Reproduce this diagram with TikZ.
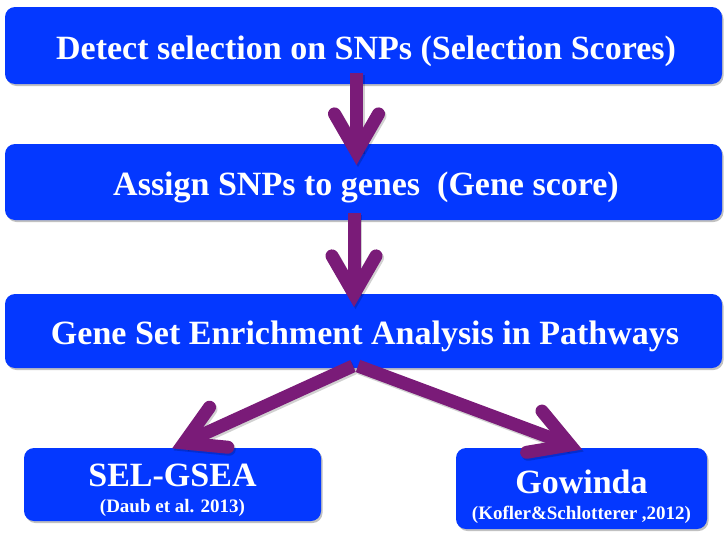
\documentclass[tikz,border=0pt]{standalone}
\usepackage{fontspec}
\setmainfont{Liberation Serif}
\usetikzlibrary{calc,shadows}
\definecolor{boxblue}{RGB}{4,56,255}
\definecolor{flowpurple}{RGB}{122,27,120}
\tikzset{
  stagebox/.style={fill=boxblue, draw=none, rounded corners=10pt, inner sep=0pt,
    drop shadow={shadow xshift=1.5pt, shadow yshift=-2pt, opacity=0.35, fill=black!70}},
  bigtext/.style={anchor=base, text=white, inner sep=0pt, font=\bfseries\fontsize{34}{37}\selectfont},
  reftext/.style={anchor=base, text=white, inner sep=0pt, font=\bfseries\fontsize{19}{21}\selectfont},
  shaftline/.style={draw=flowpurple, line width=13pt, line cap=butt},
  headline/.style={draw=flowpurple, line width=13pt, line cap=round, line join=miter, miter limit=10},
  shadowline/.style={draw=black, opacity=0.18, line width=13pt, line cap=round, line join=miter, miter limit=10},
}
\begin{document}
\begin{tikzpicture}[x=1pt,y=-1pt]
\useasboundingbox (0,0) rectangle (725,533);

% process stages
\node[stagebox, minimum width=717pt, minimum height=77pt] (b1) at (363.5,45.5) {};
\node[stagebox, minimum width=717pt, minimum height=76pt] (b2) at (363.5,182) {};
\node[stagebox, minimum width=717pt, minimum height=74pt] (b3) at (363.5,331) {};
\node[stagebox, minimum width=297pt, minimum height=73pt] (b4) at (172.5,484.5) {};
\node[stagebox, minimum width=251pt, minimum height=81pt] (b5) at (581.5,488.5) {};

% stage labels
\node[bigtext] (t1) at (366,59) {Detect selection on SNPs (Selection Scores)};
\node[bigtext] (t2) at (366,195) {Assign SNPs to genes\ \ (Gene score)};
\node[bigtext] (t3) at (365,344) {Gene Set Enrichment Analysis in Pathways};
\node[bigtext] (t4) at (172.5,486) {SEL-GSEA};
\node[reftext] (r4) at (172.5,512) {(Daub et al. 2013)};
\node[bigtext] (t5) at (581.5,493) {Gowinda};
\node[reftext] (r5) at (581.5,519) {(Kofler\&Schlotterer ,2012)};

% arrow anchors: shaft start and head vertex
\coordinate (s1) at (356.5,73);
\coordinate (v1) at (356.5,152);
\coordinate (s2) at (354,213);
\coordinate (v2) at (354,294);
\coordinate (s3) at (353,366);
\coordinate (v3) at (184,443);
\coordinate (s4) at (358,366);
\coordinate (v4) at (570,445);

% arrows
\foreach \s/\v in {s1/v1, s2/v2, s3/v3, s4/v4}{
  \draw[shadowline, line cap=butt] ([shift={(1.5,2)}]\s) -- ([shift={(1.5,2)}]\v);
  \draw[shadowline] ($([shift={(1.5,2)}]\v)!44pt!30:([shift={(1.5,2)}]\s)$) -- ([shift={(1.5,2)}]\v) -- ($([shift={(1.5,2)}]\v)!44pt!-30:([shift={(1.5,2)}]\s)$);
}
\foreach \s/\v in {s1/v1, s2/v2, s3/v3, s4/v4}{
  \draw[shaftline] (\s) -- (\v);
  \draw[headline] ($(\v)!44pt!30:(\s)$) -- (\v) -- ($(\v)!44pt!-30:(\s)$);
}
\end{tikzpicture}
\end{document}
